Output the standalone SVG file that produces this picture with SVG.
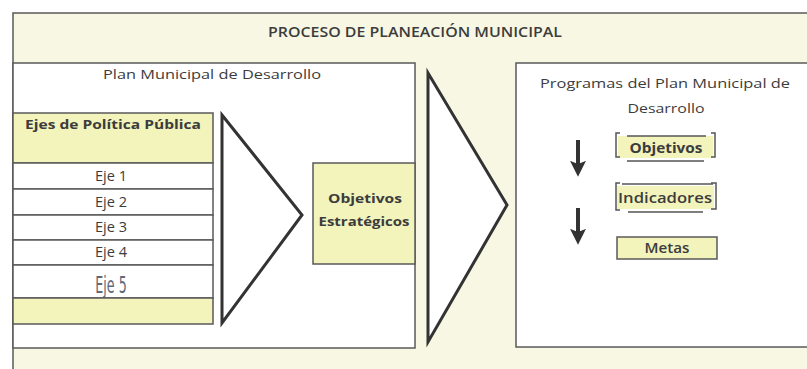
<svg xmlns="http://www.w3.org/2000/svg" width="807" height="369" viewBox="0 0 807 369">
<style>
.t{font-family:"Open Sans","Liberation Sans",sans-serif;fill:#3c3c3c;text-anchor:middle}
.b{font-weight:bold}
.s{font-weight:600}
.box{stroke:#5a5a5a;stroke-width:1.5}
.y{fill:#f3f3bc}
.w{fill:#ffffff}
.tri{fill:#ffffff;stroke:#333;stroke-width:3;stroke-linejoin:miter}
.br{fill:none;stroke:#555;stroke-width:1.5}
.ar{stroke:#333;stroke-width:4;fill:none}
</style>
<defs>
<marker id="ah" viewBox="0 0 10 10" refX="7" refY="5" markerWidth="4" markerHeight="4" orient="auto" markerUnits="strokeWidth">
<path d="M0,0 L10,5 L0,10 L2,5 Z" fill="#333"/>
</marker>
</defs>
<rect x="0" y="0" width="807" height="369" fill="#ffffff"/>
<g id="outer">
<rect x="13" y="13" width="800" height="370" fill="#f7f7e3" class="box"/>
<text class="t s" x="415" y="37" font-size="13.5" textLength="294" lengthAdjust="spacingAndGlyphs">PROCESO DE PLANEACIÓN MUNICIPAL</text>
</g>
<g id="plan">
<rect x="13" y="63" width="402" height="285" class="box w"/>
<text class="t" x="212" y="79" font-size="13.5" textLength="218" lengthAdjust="spacingAndGlyphs">Plan Municipal de Desarrollo</text>
</g>
<g id="ejes">
<rect x="13" y="113" width="200" height="50" class="box y"/>
<text class="t b" x="113" y="129" font-size="13" textLength="176" lengthAdjust="spacingAndGlyphs">Ejes de Política Pública</text>
<rect x="13" y="163" width="200" height="26" class="box w"/>
<text class="t" x="111" y="181" font-size="14" textLength="32" lengthAdjust="spacingAndGlyphs">Eje 1</text>
<rect x="13" y="189" width="200" height="26" class="box w"/>
<text class="t" x="111" y="207" font-size="14" textLength="32" lengthAdjust="spacingAndGlyphs">Eje 2</text>
<rect x="13" y="215" width="200" height="25" class="box w"/>
<text class="t" x="111" y="232" font-size="14" textLength="32" lengthAdjust="spacingAndGlyphs">Eje 3</text>
<rect x="13" y="240" width="200" height="25" class="box w"/>
<text class="t" x="111" y="257" font-size="14" textLength="32" lengthAdjust="spacingAndGlyphs">Eje 4</text>
<rect x="13" y="265" width="200" height="33" class="box w"/>
<text x="0" y="0" font-family="'DejaVu Sans','Liberation Sans',sans-serif" font-size="23" fill="#606878" text-anchor="middle" transform="translate(111,293) scale(0.55,1)">Eje 5</text>
<rect x="13" y="298" width="200" height="26" class="box y"/>
</g>
<g id="arrow1">
<polygon points="222,115 302,215 222,323" class="tri"/>
</g>
<g id="objest">
<rect x="313" y="163" width="102" height="101" class="box y"/>
<text class="t b" x="365" y="203" font-size="13" fill="#4a4a3c" textLength="74" lengthAdjust="spacingAndGlyphs">Objetivos</text>
<text class="t b" x="364" y="226" font-size="13" fill="#4a4a3c" textLength="91" lengthAdjust="spacingAndGlyphs">Estratégicos</text>
</g>
<g id="arrow2">
<polygon points="428,73 507,205 428,342" class="tri"/>
</g>
<g id="programas">
<rect x="516" y="63" width="300" height="284" class="box w"/>
<text class="t" x="665" y="88" font-size="13.5" textLength="250" lengthAdjust="spacingAndGlyphs">Programas del Plan Municipal de</text>
<text class="t" x="666" y="113" font-size="13.5" textLength="77" lengthAdjust="spacingAndGlyphs">Desarrollo</text>
</g>
<g id="objetivos">
<rect x="618" y="136" width="95" height="22" class="y"/>
<path d="M620,133 H616 V157 H620 M711,133 H715 V157 H711" class="br"/>
<path d="M627,136 H706 M627,161 H704" class="br"/>
<text class="t b" x="666" y="153" font-size="14" fill="#3f4a3a" textLength="73" lengthAdjust="spacingAndGlyphs">Objetivos</text>
</g>
<g id="indicadores">
<rect x="617" y="186" width="97" height="23" class="y"/>
<path d="M620,183 H616 V210 H620 M711,183 H716 V209 H711" class="br"/>
<path d="M622,184 H713 M628,212 H703" class="br"/>
<text class="t s" x="665" y="203" font-size="14" textLength="94" lengthAdjust="spacingAndGlyphs">Indicadores</text>
</g>
<g id="metas">
<rect x="617" y="237" width="100" height="22" class="box y"/>
<text class="t s" x="667" y="253" font-size="14" textLength="45" lengthAdjust="spacingAndGlyphs">Metas</text>
</g>
<g id="connectors">
<line x1="578" y1="140" x2="578" y2="172" class="ar" marker-end="url(#ah)"/>
<line x1="578" y1="208" x2="578" y2="240" class="ar" marker-end="url(#ah)"/>
</g>
</svg>
